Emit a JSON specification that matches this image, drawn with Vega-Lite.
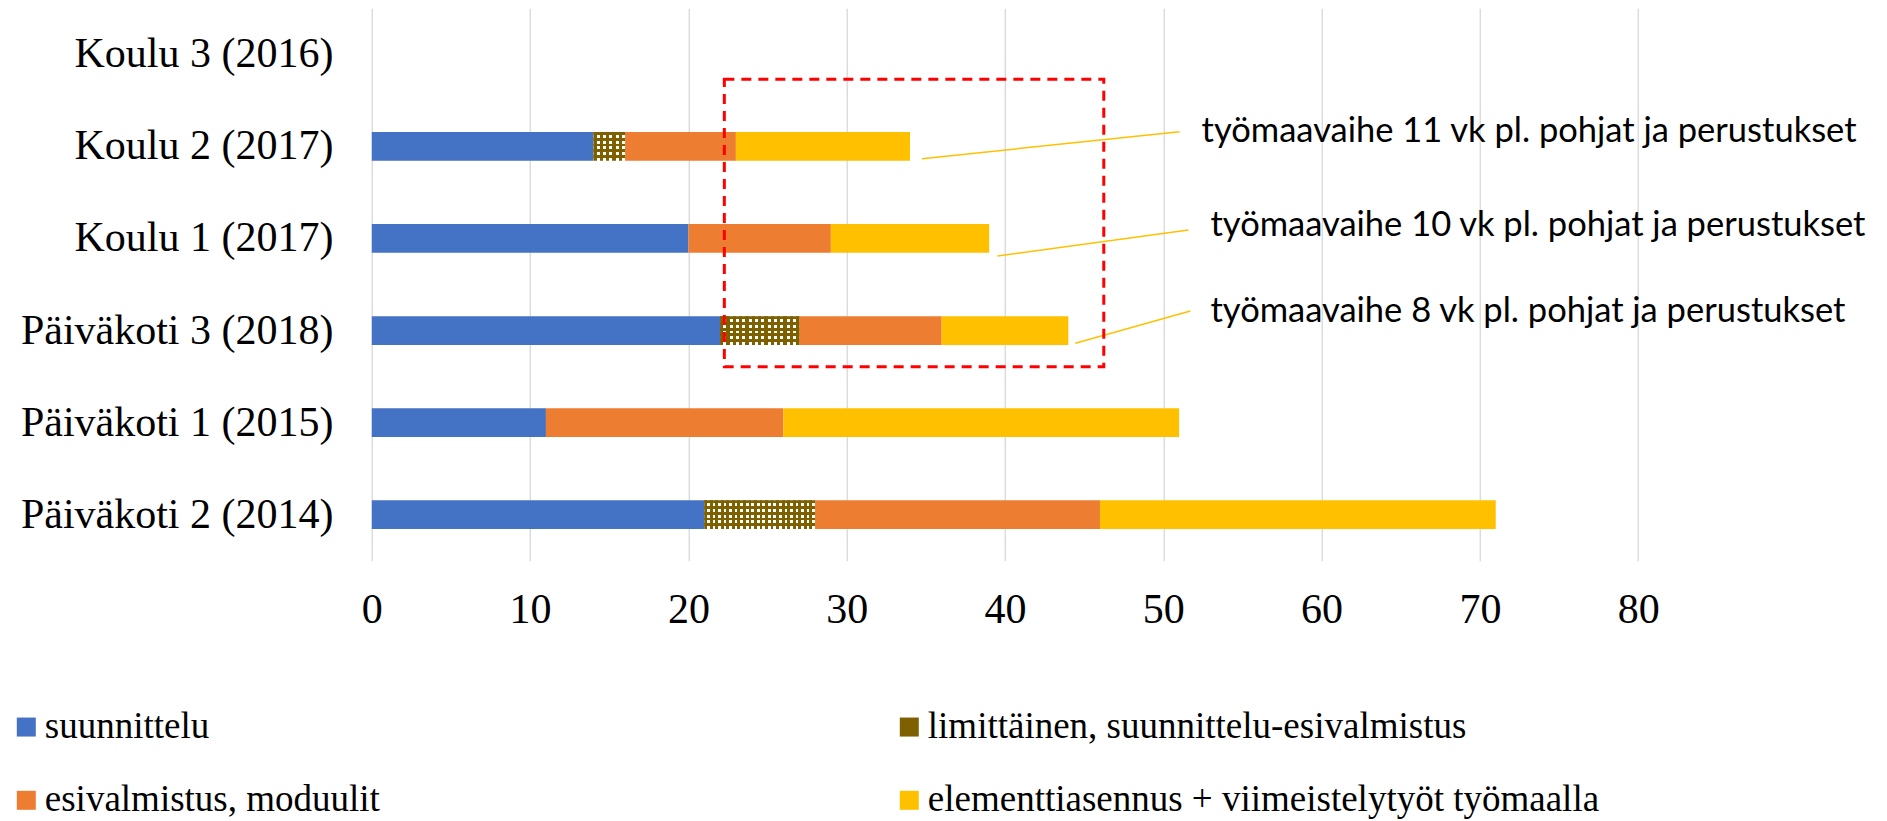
{
  "$schema": "https://vega.github.io/schema/vega-lite/v6.json",
  "width": 1266.4,
  "height": 552.4,
  "autosize": {"type": "none"},
  "padding": {"left": 371.8, "top": 8.3, "right": 248.8, "bottom": 260.3},
  "background": "white",
  "config": {"view": {"stroke": null}},
  "layer": [
    {
      "data": {
        "values": [
          {"project": "Koulu 2 (2017)", "phase": "suunnittelu", "step": 1, "weeks": 14},
          {"project": "Koulu 2 (2017)", "phase": "limittäinen, suunnittelu-esivalmistus", "step": 2, "weeks": 2},
          {"project": "Koulu 2 (2017)", "phase": "esivalmistus, moduulit", "step": 3, "weeks": 7},
          {"project": "Koulu 2 (2017)", "phase": "elementtiasennus + viimeistelytyöt työmaalla", "step": 4, "weeks": 11},
          {"project": "Koulu 1 (2017)", "phase": "suunnittelu", "step": 1, "weeks": 20},
          {"project": "Koulu 1 (2017)", "phase": "esivalmistus, moduulit", "step": 3, "weeks": 9},
          {"project": "Koulu 1 (2017)", "phase": "elementtiasennus + viimeistelytyöt työmaalla", "step": 4, "weeks": 10},
          {"project": "Päiväkoti 3 (2018)", "phase": "suunnittelu", "step": 1, "weeks": 22},
          {"project": "Päiväkoti 3 (2018)", "phase": "limittäinen, suunnittelu-esivalmistus", "step": 2, "weeks": 5},
          {"project": "Päiväkoti 3 (2018)", "phase": "esivalmistus, moduulit", "step": 3, "weeks": 9},
          {"project": "Päiväkoti 3 (2018)", "phase": "elementtiasennus + viimeistelytyöt työmaalla", "step": 4, "weeks": 8},
          {"project": "Päiväkoti 1 (2015)", "phase": "suunnittelu", "step": 1, "weeks": 11},
          {"project": "Päiväkoti 1 (2015)", "phase": "esivalmistus, moduulit", "step": 3, "weeks": 15},
          {"project": "Päiväkoti 1 (2015)", "phase": "elementtiasennus + viimeistelytyöt työmaalla", "step": 4, "weeks": 25},
          {"project": "Päiväkoti 2 (2014)", "phase": "suunnittelu", "step": 1, "weeks": 21},
          {"project": "Päiväkoti 2 (2014)", "phase": "limittäinen, suunnittelu-esivalmistus", "step": 2, "weeks": 7},
          {"project": "Päiväkoti 2 (2014)", "phase": "esivalmistus, moduulit", "step": 3, "weeks": 18},
          {"project": "Päiväkoti 2 (2014)", "phase": "elementtiasennus + viimeistelytyöt työmaalla", "step": 4, "weeks": 25}
        ]
      },
      "transform": [
        {"stack": "weeks", "groupby": ["project"], "sort": [{"field": "step", "order": "ascending"}], "as": ["start", "end"]}
      ],
      "encoding": {
        "y": {
          "field": "project",
          "type": "nominal",
          "scale": {
            "domain": ["Koulu 3 (2016)", "Koulu 2 (2017)", "Koulu 1 (2017)", "Päiväkoti 3 (2018)", "Päiväkoti 1 (2015)", "Päiväkoti 2 (2014)"],
            "paddingInner": 0.688,
            "paddingOuter": 0.344
          },
          "axis": {
            "title": null,
            "domain": false,
            "ticks": false,
            "tickSize": 0,
            "grid": false,
            "labelFont": "Liberation Serif",
            "labelFontSize": 42,
            "labelColor": "black",
            "labelPadding": 38.8,
            "labelLimit": 0
          }
        },
        "x": {
          "field": "start",
          "type": "quantitative",
          "scale": {"domain": [0, 80], "nice": false},
          "axis": {
            "title": null,
            "values": [0, 10, 20, 30, 40, 50, 60, 70, 80],
            "grid": true,
            "gridColor": "#dcdcdc",
            "gridWidth": 1.5,
            "domain": false,
            "ticks": false,
            "tickSize": 0,
            "labelFont": "Liberation Serif",
            "labelFontSize": 42,
            "labelColor": "black",
            "labelPadding": 29,
            "labelFlush": false,
            "labelOverlap": false
          }
        },
        "x2": {"field": "end"}
      },
      "layer": [
        {
          "mark": {"type": "bar"},
          "encoding": {
            "color": {
              "field": "phase",
              "type": "nominal",
              "condition": {"test": "datum.phase === 'limittäinen, suunnittelu-esivalmistus'", "value": "white"},
              "scale": {
                "domain": ["suunnittelu", "esivalmistus, moduulit", "limittäinen, suunnittelu-esivalmistus", "elementtiasennus + viimeistelytyöt työmaalla"],
                "range": ["#4472c4", "#ed7d31", "#7f6000", "#ffc000"]
              },
              "legend": {
                "title": null,
                "orient": "none",
                "legendX": -364,
                "legendY": 700,
                "columns": 2,
                "columnPadding": 510,
                "rowPadding": 35.5,
                "padding": 0,
                "symbolType": "square",
                "symbolSize": 361,
                "symbolStrokeWidth": 0,
                "symbolOpacity": 1,
                "labelFont": "Liberation Serif",
                "labelFontSize": 37,
                "labelColor": "black",
                "labelOffset": 0,
                "labelLimit": 0
              }
            }
          }
        },
        {
          "transform": [{"filter": "datum.phase === 'limittäinen, suunnittelu-esivalmistus'"}],
          "mark": {
            "type": "bar",
            "fill": {
              "gradient": "linear", "x1": 0, "y1": 0, "x2": 0, "y2": 1,
              "stops": [
                {"offset": 0, "color": "#7f6000"}, {"offset": 0.1, "color": "#7f6000"},
                {"offset": 0.1, "color": "rgba(127,96,0,0)"}, {"offset": 0.2, "color": "rgba(127,96,0,0)"},
                {"offset": 0.2, "color": "#7f6000"}, {"offset": 0.3, "color": "#7f6000"},
                {"offset": 0.3, "color": "rgba(127,96,0,0)"}, {"offset": 0.4, "color": "rgba(127,96,0,0)"},
                {"offset": 0.4, "color": "#7f6000"}, {"offset": 0.5, "color": "#7f6000"},
                {"offset": 0.5, "color": "rgba(127,96,0,0)"}, {"offset": 0.6, "color": "rgba(127,96,0,0)"},
                {"offset": 0.6, "color": "#7f6000"}, {"offset": 0.7, "color": "#7f6000"},
                {"offset": 0.7, "color": "rgba(127,96,0,0)"}, {"offset": 0.8, "color": "rgba(127,96,0,0)"},
                {"offset": 0.8, "color": "#7f6000"}, {"offset": 0.9, "color": "#7f6000"},
                {"offset": 0.9, "color": "rgba(127,96,0,0)"}, {"offset": 1, "color": "rgba(127,96,0,0)"}
              ]
            }
          }
        },
        {
          "transform": [{"filter": "datum.phase === 'limittäinen, suunnittelu-esivalmistus' && datum.project === 'Koulu 2 (2017)'"}],
          "mark": {
            "type": "bar",
            "fill": {
              "gradient": "linear", "x1": 0, "y1": 0, "x2": 1, "y2": 0,
              "stops": [
                {"offset": 0, "color": "#7f6000"}, {"offset": 0.1, "color": "#7f6000"},
                {"offset": 0.1, "color": "rgba(127,96,0,0)"}, {"offset": 0.2, "color": "rgba(127,96,0,0)"},
                {"offset": 0.2, "color": "#7f6000"}, {"offset": 0.3, "color": "#7f6000"},
                {"offset": 0.3, "color": "rgba(127,96,0,0)"}, {"offset": 0.4, "color": "rgba(127,96,0,0)"},
                {"offset": 0.4, "color": "#7f6000"}, {"offset": 0.5, "color": "#7f6000"},
                {"offset": 0.5, "color": "rgba(127,96,0,0)"}, {"offset": 0.6, "color": "rgba(127,96,0,0)"},
                {"offset": 0.6, "color": "#7f6000"}, {"offset": 0.7, "color": "#7f6000"},
                {"offset": 0.7, "color": "rgba(127,96,0,0)"}, {"offset": 0.8, "color": "rgba(127,96,0,0)"},
                {"offset": 0.8, "color": "#7f6000"}, {"offset": 0.9, "color": "#7f6000"},
                {"offset": 0.9, "color": "rgba(127,96,0,0)"}, {"offset": 1, "color": "rgba(127,96,0,0)"}
              ]
            }
          }
        },
        {
          "transform": [{"filter": "datum.phase === 'limittäinen, suunnittelu-esivalmistus' && datum.project === 'Päiväkoti 3 (2018)'"}],
          "mark": {
            "type": "bar",
            "fill": {
              "gradient": "linear", "x1": 0, "y1": 0, "x2": 1, "y2": 0,
              "stops": [
                {"offset": 0, "color": "#7f6000"}, {"offset": 0.04, "color": "#7f6000"},
                {"offset": 0.04, "color": "rgba(127,96,0,0)"}, {"offset": 0.08, "color": "rgba(127,96,0,0)"},
                {"offset": 0.08, "color": "#7f6000"}, {"offset": 0.12, "color": "#7f6000"},
                {"offset": 0.12, "color": "rgba(127,96,0,0)"}, {"offset": 0.16, "color": "rgba(127,96,0,0)"},
                {"offset": 0.16, "color": "#7f6000"}, {"offset": 0.2, "color": "#7f6000"},
                {"offset": 0.2, "color": "rgba(127,96,0,0)"}, {"offset": 0.24, "color": "rgba(127,96,0,0)"},
                {"offset": 0.24, "color": "#7f6000"}, {"offset": 0.28, "color": "#7f6000"},
                {"offset": 0.28, "color": "rgba(127,96,0,0)"}, {"offset": 0.32, "color": "rgba(127,96,0,0)"},
                {"offset": 0.32, "color": "#7f6000"}, {"offset": 0.36, "color": "#7f6000"},
                {"offset": 0.36, "color": "rgba(127,96,0,0)"}, {"offset": 0.4, "color": "rgba(127,96,0,0)"},
                {"offset": 0.4, "color": "#7f6000"}, {"offset": 0.44, "color": "#7f6000"},
                {"offset": 0.44, "color": "rgba(127,96,0,0)"}, {"offset": 0.48, "color": "rgba(127,96,0,0)"},
                {"offset": 0.48, "color": "#7f6000"}, {"offset": 0.52, "color": "#7f6000"},
                {"offset": 0.52, "color": "rgba(127,96,0,0)"}, {"offset": 0.56, "color": "rgba(127,96,0,0)"},
                {"offset": 0.56, "color": "#7f6000"}, {"offset": 0.6, "color": "#7f6000"},
                {"offset": 0.6, "color": "rgba(127,96,0,0)"}, {"offset": 0.64, "color": "rgba(127,96,0,0)"},
                {"offset": 0.64, "color": "#7f6000"}, {"offset": 0.68, "color": "#7f6000"},
                {"offset": 0.68, "color": "rgba(127,96,0,0)"}, {"offset": 0.72, "color": "rgba(127,96,0,0)"},
                {"offset": 0.72, "color": "#7f6000"}, {"offset": 0.76, "color": "#7f6000"},
                {"offset": 0.76, "color": "rgba(127,96,0,0)"}, {"offset": 0.8, "color": "rgba(127,96,0,0)"},
                {"offset": 0.8, "color": "#7f6000"}, {"offset": 0.84, "color": "#7f6000"},
                {"offset": 0.84, "color": "rgba(127,96,0,0)"}, {"offset": 0.88, "color": "rgba(127,96,0,0)"},
                {"offset": 0.88, "color": "#7f6000"}, {"offset": 0.92, "color": "#7f6000"},
                {"offset": 0.92, "color": "rgba(127,96,0,0)"}, {"offset": 0.96, "color": "rgba(127,96,0,0)"},
                {"offset": 0.96, "color": "#7f6000"}, {"offset": 1, "color": "#7f6000"}
              ]
            }
          }
        },
        {
          "transform": [{"filter": "datum.phase === 'limittäinen, suunnittelu-esivalmistus' && datum.project === 'Päiväkoti 2 (2014)'"}],
          "mark": {
            "type": "bar",
            "fill": {
              "gradient": "linear", "x1": 0, "y1": 0, "x2": 1, "y2": 0,
              "stops": [
                {"offset": 0, "color": "#7f6000"}, {"offset": 0.025, "color": "#7f6000"},
                {"offset": 0.025, "color": "rgba(127,96,0,0)"}, {"offset": 0.05, "color": "rgba(127,96,0,0)"},
                {"offset": 0.05, "color": "#7f6000"}, {"offset": 0.075, "color": "#7f6000"},
                {"offset": 0.075, "color": "rgba(127,96,0,0)"}, {"offset": 0.1, "color": "rgba(127,96,0,0)"},
                {"offset": 0.1, "color": "#7f6000"}, {"offset": 0.125, "color": "#7f6000"},
                {"offset": 0.125, "color": "rgba(127,96,0,0)"}, {"offset": 0.15, "color": "rgba(127,96,0,0)"},
                {"offset": 0.15, "color": "#7f6000"}, {"offset": 0.175, "color": "#7f6000"},
                {"offset": 0.175, "color": "rgba(127,96,0,0)"}, {"offset": 0.2, "color": "rgba(127,96,0,0)"},
                {"offset": 0.2, "color": "#7f6000"}, {"offset": 0.225, "color": "#7f6000"},
                {"offset": 0.225, "color": "rgba(127,96,0,0)"}, {"offset": 0.25, "color": "rgba(127,96,0,0)"},
                {"offset": 0.25, "color": "#7f6000"}, {"offset": 0.275, "color": "#7f6000"},
                {"offset": 0.275, "color": "rgba(127,96,0,0)"}, {"offset": 0.3, "color": "rgba(127,96,0,0)"},
                {"offset": 0.3, "color": "#7f6000"}, {"offset": 0.325, "color": "#7f6000"},
                {"offset": 0.325, "color": "rgba(127,96,0,0)"}, {"offset": 0.35, "color": "rgba(127,96,0,0)"},
                {"offset": 0.35, "color": "#7f6000"}, {"offset": 0.375, "color": "#7f6000"},
                {"offset": 0.375, "color": "rgba(127,96,0,0)"}, {"offset": 0.4, "color": "rgba(127,96,0,0)"},
                {"offset": 0.4, "color": "#7f6000"}, {"offset": 0.425, "color": "#7f6000"},
                {"offset": 0.425, "color": "rgba(127,96,0,0)"}, {"offset": 0.45, "color": "rgba(127,96,0,0)"},
                {"offset": 0.45, "color": "#7f6000"}, {"offset": 0.475, "color": "#7f6000"},
                {"offset": 0.475, "color": "rgba(127,96,0,0)"}, {"offset": 0.5, "color": "rgba(127,96,0,0)"},
                {"offset": 0.5, "color": "#7f6000"}, {"offset": 0.525, "color": "#7f6000"},
                {"offset": 0.525, "color": "rgba(127,96,0,0)"}, {"offset": 0.55, "color": "rgba(127,96,0,0)"},
                {"offset": 0.55, "color": "#7f6000"}, {"offset": 0.575, "color": "#7f6000"},
                {"offset": 0.575, "color": "rgba(127,96,0,0)"}, {"offset": 0.6, "color": "rgba(127,96,0,0)"},
                {"offset": 0.6, "color": "#7f6000"}, {"offset": 0.625, "color": "#7f6000"},
                {"offset": 0.625, "color": "rgba(127,96,0,0)"}, {"offset": 0.65, "color": "rgba(127,96,0,0)"},
                {"offset": 0.65, "color": "#7f6000"}, {"offset": 0.675, "color": "#7f6000"},
                {"offset": 0.675, "color": "rgba(127,96,0,0)"}, {"offset": 0.7, "color": "rgba(127,96,0,0)"},
                {"offset": 0.7, "color": "#7f6000"}, {"offset": 0.725, "color": "#7f6000"},
                {"offset": 0.725, "color": "rgba(127,96,0,0)"}, {"offset": 0.75, "color": "rgba(127,96,0,0)"},
                {"offset": 0.75, "color": "#7f6000"}, {"offset": 0.775, "color": "#7f6000"},
                {"offset": 0.775, "color": "rgba(127,96,0,0)"}, {"offset": 0.8, "color": "rgba(127,96,0,0)"},
                {"offset": 0.8, "color": "#7f6000"}, {"offset": 0.825, "color": "#7f6000"},
                {"offset": 0.825, "color": "rgba(127,96,0,0)"}, {"offset": 0.85, "color": "rgba(127,96,0,0)"},
                {"offset": 0.85, "color": "#7f6000"}, {"offset": 0.875, "color": "#7f6000"},
                {"offset": 0.875, "color": "rgba(127,96,0,0)"}, {"offset": 0.9, "color": "rgba(127,96,0,0)"},
                {"offset": 0.9, "color": "#7f6000"}, {"offset": 0.925, "color": "#7f6000"},
                {"offset": 0.925, "color": "rgba(127,96,0,0)"}, {"offset": 0.95, "color": "rgba(127,96,0,0)"},
                {"offset": 0.95, "color": "#7f6000"}, {"offset": 0.975, "color": "#7f6000"},
                {"offset": 0.975, "color": "rgba(127,96,0,0)"}, {"offset": 1, "color": "rgba(127,96,0,0)"}
              ]
            }
          }
        }
      ]
    },
    {
      "layer": [
        {
          "data": {
            "values": [
              {"label": "työmaavaihe 11 vk pl. pohjat ja perustukset", "ax": 34.76, "ay": 4.366, "bx": 51.03, "by": 4.66, "lx": 52.42, "ly": 4.551},
              {"label": "työmaavaihe 10 vk pl. pohjat ja perustukset", "ax": 39.52, "ay": 3.31, "bx": 51.59, "by": 3.592, "lx": 52.98, "ly": 3.53},
              {"label": "työmaavaihe 8 vk pl. pohjat ja perustukset", "ax": 44.44, "ay": 2.361, "bx": 51.71, "by": 2.712, "lx": 52.98, "ly": 2.59}
            ]
          },
          "layer": [
            {
              "mark": {"type": "rule", "color": "#ffc000", "strokeWidth": 1.5},
              "encoding": {
                "x": {"field": "ax", "type": "quantitative", "scale": {"domain": [0, 80], "nice": false, "zero": false}, "axis": null},
                "x2": {"field": "bx"},
                "y": {"field": "ay", "type": "quantitative", "scale": {"domain": [0, 6], "nice": false, "zero": false}, "axis": null},
                "y2": {"field": "by"}
              }
            },
            {
              "mark": {"type": "text", "font": "Lato", "fontSize": 34.5, "align": "left", "baseline": "alphabetic", "color": "black"},
              "encoding": {
                "x": {"field": "lx", "type": "quantitative", "scale": {"domain": [0, 80], "nice": false, "zero": false}, "axis": null},
                "y": {"field": "ly", "type": "quantitative", "scale": {"domain": [0, 6], "nice": false, "zero": false}, "axis": null},
                "text": {"field": "label"}
              }
            }
          ]
        },
        {
          "data": {"values": [{"bx0": 22.27, "bx1": 46.24, "by0": 5.229, "by1": 2.107}]},
          "mark": {"type": "rect", "fill": null, "stroke": "#ff0000", "strokeWidth": 3, "strokeDash": [10, 7]},
          "encoding": {
            "x": {"field": "bx0", "type": "quantitative", "scale": {"domain": [0, 80], "nice": false, "zero": false}, "axis": null},
            "x2": {"field": "bx1"},
            "y": {"field": "by0", "type": "quantitative", "scale": {"domain": [0, 6], "nice": false, "zero": false}, "axis": null},
            "y2": {"field": "by1"}
          }
        }
      ]
    }
  ],
  "resolve": {"scale": {"y": "independent", "x": "independent"}}
}
